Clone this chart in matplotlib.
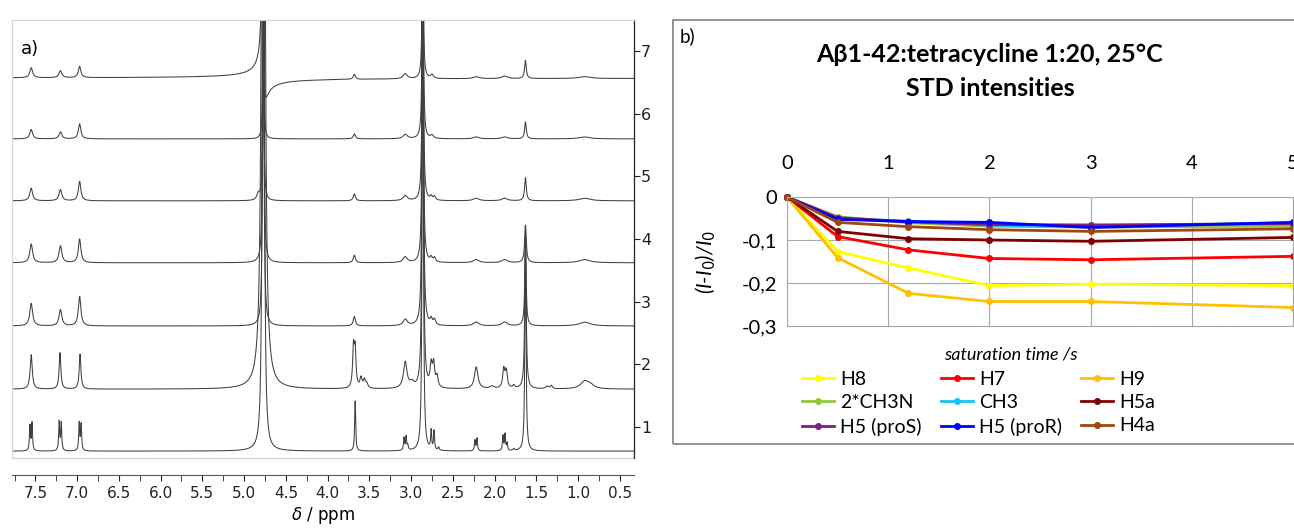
import matplotlib
matplotlib.use("Agg")
import matplotlib.pyplot as plt
import numpy as np
from matplotlib.ticker import MultipleLocator, FormatStrFormatter
from matplotlib.patches import Rectangle

# ---------- panel a : 1H STD spectra, peak tables (ppm, height, half width) ----------
# spectrum 1 is the bottom trace, spectrum 7 the top one
peaks_1 = [(7.565, 0.4, 0.007), (7.54, 0.44, 0.007), (7.215, 0.46, 0.007), (7.19, 0.44, 0.007),
           (6.975, 0.44, 0.007), (6.952, 0.42, 0.007), (4.77, 40, 0.006), (3.67, 0.8, 0.007),
           (3.085, 0.2, 0.007), (3.06, 0.22, 0.007), (3.04, 0.08, 0.007), (2.86, 10, 0.007),
           (2.76, 0.3, 0.007), (2.725, 0.3, 0.007), (2.67, 0.05, 0.008), (2.235, 0.17, 0.007),
           (2.21, 0.2, 0.007), (1.9, 0.24, 0.007), (1.875, 0.26, 0.007), (1.85, 0.12, 0.007),
           (1.77, 0.03, 0.01), (1.63, 3.6, 0.008)]
peaks_2 = [(7.55, 0.55, 0.015), (7.205, 0.58, 0.012), (6.965, 0.56, 0.012), (4.77, 40, 0.011),
           (3.69, 0.62, 0.012), (3.67, 0.58, 0.012), (3.6, 0.16, 0.015), (3.56, 0.13, 0.015),
           (3.53, 0.07, 0.015), (3.07, 0.42, 0.025), (2.99, 0.08, 0.03), (2.86, 9, 0.008),
           (2.76, 0.34, 0.015), (2.73, 0.36, 0.015), (2.69, 0.17, 0.015), (2.22, 0.35, 0.025),
           (2.03, 0.04, 0.03), (1.89, 0.3, 0.015), (1.86, 0.27, 0.015), (1.77, 0.05, 0.015),
           (1.63, 2.5, 0.01), (1.37, 0.04, 0.02), (1.32, 0.05, 0.015), (0.92, 0.12, 0.06),
           (0.85, 0.05, 0.05)]
peaks_3 = [(7.55, 0.36, 0.02), (7.2, 0.26, 0.02), (6.97, 0.47, 0.018), (4.77, 5, 0.01),
           (3.68, 0.15, 0.015), (3.07, 0.1, 0.03), (2.86, 8, 0.008), (2.76, 0.09, 0.015),
           (2.72, 0.09, 0.015), (2.22, 0.06, 0.04), (1.88, 0.06, 0.04), (1.63, 1.3, 0.01),
           (0.92, 0.06, 0.08)]
peaks_4 = [(7.55, 0.3, 0.02), (7.2, 0.27, 0.02), (6.97, 0.38, 0.018), (4.77, 4, 0.01),
           (3.68, 0.12, 0.015), (3.07, 0.09, 0.03), (2.86, 6, 0.008), (2.76, 0.07, 0.015),
           (2.72, 0.07, 0.015), (2.22, 0.05, 0.04), (1.88, 0.05, 0.04), (1.63, 0.6, 0.012),
           (0.92, 0.05, 0.08)]
peaks_5 = [(7.55, 0.2, 0.02), (7.2, 0.18, 0.02), (6.97, 0.31, 0.018), (4.83, 0.1, 0.02),
           (4.77, 3, 0.008), (3.68, 0.11, 0.015), (3.07, 0.08, 0.03), (2.86, 5, 0.008),
           (2.76, 0.06, 0.015), (2.72, 0.06, 0.015), (2.22, 0.04, 0.04), (1.88, 0.04, 0.04),
           (1.63, 0.37, 0.012), (0.92, 0.04, 0.08)]
peaks_6 = [(7.55, 0.15, 0.02), (7.2, 0.11, 0.02), (6.97, 0.24, 0.018), (4.77, 2, 0.008),
           (3.68, 0.08, 0.015), (3.07, 0.07, 0.03), (2.86, 4, 0.008), (2.75, 0.05, 0.02),
           (2.22, 0.03, 0.04), (1.88, 0.03, 0.04), (1.63, 0.27, 0.012), (0.92, 0.03, 0.08)]
peaks_7 = [(7.55, 0.16, 0.02), (7.2, 0.11, 0.02), (6.97, 0.18, 0.018), (4.77, 20, 0.004),
           (3.68, 0.08, 0.015), (3.07, 0.08, 0.03), (2.86, 3, 0.008), (2.75, 0.06, 0.02),
           (2.22, 0.03, 0.04), (1.88, 0.04, 0.04), (1.63, 0.29, 0.012), (0.92, 0.03, 0.08)]
# dispersive (badly phased) water line in the top trace: (ppm, amplitude, half width)
water_disp_7 = (4.77, 5.0, 0.004)
spectra = [peaks_1, peaks_2, peaks_3, peaks_4, peaks_5, peaks_6, peaks_7]
baselines = [0.61, 1.60, 2.61, 3.62, 4.61, 5.60, 6.57]

# ---------- panel b : STD build-up ----------
sat_time = [0, 0.5, 1.2, 2, 3, 5]
series_names = ["H8", "H7", "H9", "2*CH3N", "CH3", "H5a", "H5 (proS)", "H5 (proR)", "H4a"]
H8 = [0, -0.127, -0.165, -0.206, -0.203, -0.206]
H7 = [0, -0.092, -0.123, -0.143, -0.146, -0.138]
H9 = [0, -0.141, -0.224, -0.243, -0.243, -0.257]
CH3N2 = [0, -0.046, -0.060, -0.068, -0.070, -0.068]
CH3 = [0, -0.050, -0.056, -0.066, -0.068, -0.060]
H5a = [0, -0.080, -0.097, -0.100, -0.103, -0.094]
H5_proS = [0, -0.048, -0.058, -0.064, -0.065, -0.062]
H5_proR = [0, -0.052, -0.057, -0.059, -0.071, -0.059]
H4a = [0, -0.059, -0.069, -0.076, -0.080, -0.074]
series_values = [H8, H7, H9, CH3N2, CH3, H5a, H5_proS, H5_proR, H4a]
series_colors = ["#FFFF00", "#FF0000", "#FFC000", "#92C83E", "#19C3F0",
                 "#7F0000", "#7F1F80", "#0000FF", "#A0460F"]

W, H = 1294, 530
fig = plt.figure(figsize=(W / 100, H / 100), dpi=100)
lato = ["Lato", "DejaVu Sans"]

# ---- panel a
ax = fig.add_axes([12 / W, 1 - 458 / H, 622 / W, 438 / H])
ppm = np.linspace(7.8, 0.3, 12000)
for base, peaks in zip(baselines, spectra):
    y = np.zeros_like(ppm)
    for p0, h, w in peaks:
        y += h * w ** 2 / ((ppm - p0) ** 2 + w ** 2)
    if peaks is peaks_7:
        p0, d, w = water_disp_7
        y += d * w * (ppm - p0) / ((ppm - p0) ** 2 + w ** 2)
    ax.plot(ppm, y + base, color="#404040", lw=0.75)

ax.set_xlim(7.78, 0.33)
ax.set_ylim(0.5, 7.5)
for s in ["left", "top"]:
    ax.spines[s].set_color("#d6d6d6")
ax.spines["right"].set_color("#222222")
ax.spines["right"].set_linewidth(0.9)
ax.spines["bottom"].set_position(("outward", 12.2))
ax.spines["bottom"].set_color("#555555")
ax.axhline(0.5, color="#d6d6d6", lw=1.0, clip_on=False)
ax.yaxis.tick_right()
ax.set_yticks(range(1, 8))
ax.tick_params(axis="y", direction="out", length=4, labelsize=11.5, pad=1, colors="#222222")
ax.xaxis.set_major_locator(MultipleLocator(0.5))
ax.xaxis.set_minor_locator(MultipleLocator(0.25))
ax.xaxis.set_major_formatter(FormatStrFormatter("%.1f"))
ax.tick_params(axis="x", which="both", direction="out", length=4, labelsize=11,
               colors="#222222", pad=4)
ax.set_xlabel(r"$\delta$ / ppm", fontsize=12, labelpad=3)
ax.text(0.015, 0.955, "a)", transform=ax.transAxes, fontsize=13, va="top")

# ---- panel b
fig.add_artist(Rectangle((673 / W, 1 - 444 / H), (1310 - 673) / W, (444 - 20) / H,
                         transform=fig.transFigure, fill=False, edgecolor="#8a8a8a", lw=1.3))
fig.text(680 / W, 1 - 36 / H, "b)", fontsize=13.5, family=lato, va="center")
fig.text(990 / W, 1 - 55 / H, "A\u03b21-42:tetracycline 1:20, 25\u00b0C", fontsize=18,
         fontweight="bold", family=lato, ha="center", va="center")
fig.text(990 / W, 1 - 89 / H, "STD intensities", fontsize=18, fontweight="bold",
         family=lato, ha="center", va="center")

bx = fig.add_axes([787 / W, 1 - 326 / H, 506 / W, 129 / H])
lines = []
for name, vals, col in zip(series_names, series_values, series_colors):
    ln, = bx.plot(sat_time, vals, color=col, lw=2.0, marker="o", markersize=4,
                  label=name, clip_on=False)
    lines.append(ln)
bx.set_xlim(0, 5)
bx.set_ylim(-0.3, 0)
bx.xaxis.tick_top()
bx.set_xticks(range(6))
bx.set_yticks([0, -0.1, -0.2, -0.3])
bx.set_yticklabels(["0", "-0,1", "-0,2", "-0,3"])
bx.grid(True, color="#a8a8a8", lw=0.8)
bx.set_axisbelow(True)
for s in bx.spines.values():
    s.set_color("#a8a8a8")
    s.set_linewidth(0.8)
bx.tick_params(axis="x", length=0, labelsize=14.5, pad=18)
bx.tick_params(axis="y", length=0, labelsize=14.5, pad=7)
for lab in bx.get_xticklabels() + bx.get_yticklabels():
    lab.set_family(lato)
bx.set_ylabel(r"(I-I$_0$)/I$_0$", fontsize=15, fontstyle="italic", family=lato, labelpad=17)
fig.text(1011 / W, 1 - 355 / H, "saturation time /s", fontsize=13, fontstyle="italic",
         family=lato, ha="center", va="center")

order = [0, 3, 6, 1, 4, 7, 2, 5, 8]
fig.legend([lines[i] for i in order], [series_names[i] for i in order], ncol=3,
           loc="upper left", bbox_to_anchor=(802 / W, 1 - 371 / H), frameon=False,
           prop={"family": lato, "size": 14}, handlelength=1.65,
           handletextpad=0.3, columnspacing=1.0, labelspacing=0.32, borderpad=0,
           borderaxespad=0)

fig.savefig("out.png", dpi=100)
